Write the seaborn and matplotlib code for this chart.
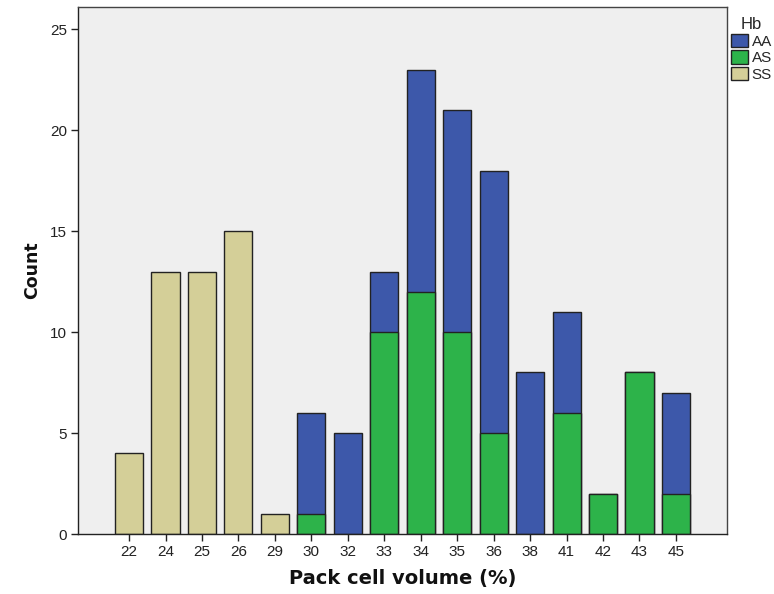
import matplotlib
matplotlib.use("Agg")
import matplotlib.pyplot as plt
import seaborn as sns
import pandas as pd
from matplotlib.patches import Patch

categories = ["22", "24", "25", "26", "29", "30", "32", "33", "34", "35", "36", "38", "41", "42", "43", "45"]
aa_counts = [0, 0, 0, 0, 0, 5, 5, 3, 11, 11, 13, 8, 5, 0, 0, 5]
as_counts = [0, 0, 0, 0, 0, 1, 0, 10, 12, 10, 5, 0, 6, 2, 8, 2]
ss_counts = [4, 13, 13, 15, 1, 0, 0, 0, 0, 0, 0, 0, 0, 0, 0, 0]

df = pd.DataFrame({"pcv": categories, "AA": aa_counts, "AS": as_counts, "SS": ss_counts})
df["AA_top"] = df["AA"] + df["AS"]

C_AA = "#3d58aa"
C_AS = "#2db34a"
C_SS = "#d4cf98"

sns.set_style("ticks")
plt.rcParams["font.family"] = ["Liberation Sans", "DejaVu Sans"]

fig = plt.figure(figsize=(7.74, 5.94), dpi=100)
ax = fig.add_axes([78 / 774, 60 / 594, (727 - 78) / 774, (534 - 7) / 594])
ax.set_facecolor("#efefef")

kw = dict(order=categories, width=0.77, edgecolor="#222222", linewidth=1.0, ax=ax)
sns.barplot(data=df[df["AA_top"] > 0], x="pcv", y="AA_top", color=C_AA, saturation=1, **kw)
sns.barplot(data=df[df["AS"] > 0], x="pcv", y="AS", color=C_AS, saturation=1, **kw)
sns.barplot(data=df[df["SS"] > 0], x="pcv", y="SS", color=C_SS, saturation=1, **kw)

ax.set_xlim(-1.4, 16.4)
ax.set_ylim(0, 26.1)
ax.set_yticks([0, 5, 10, 15, 20, 25])
ax.tick_params(axis="both", which="major", bottom=True, left=True, direction="out", length=5, width=1,
               color="#222222", labelsize=11, labelcolor="#222222", pad=3)
for s in ax.spines.values():
    s.set_visible(True)
    s.set_color("#444444")
    s.set_linewidth(1.0)
ax.spines["left"].set_color("#222222")
ax.spines["bottom"].set_color("#222222")

ax.set_xlabel("Pack cell volume (%)", fontsize=14, fontweight="bold", labelpad=7,
              family=["DejaVu Sans"], color="#111111")
ax.set_ylabel("Count", fontsize=12.5, fontweight="bold", labelpad=6,
              family=["DejaVu Sans"], color="#111111")

handles = [Patch(facecolor=c, edgecolor="#222222", label=l) for c, l in [(C_AA, "AA"), (C_AS, "AS"), (C_SS, "SS")]]
leg = fig.legend(handles=handles, title="Hb", loc="upper left", bbox_to_anchor=(728 / 774, 1 - 14 / 594),
                 frameon=False, fontsize=11, title_fontsize=12, handlelength=1.1, handleheight=1.0,
                 handletextpad=0.25, labelspacing=0.1, borderpad=0.2, borderaxespad=0)
leg._legend_box.align = "left"
leg.get_title().set_position((10, 0))

fig.savefig("out.png", dpi=100)
